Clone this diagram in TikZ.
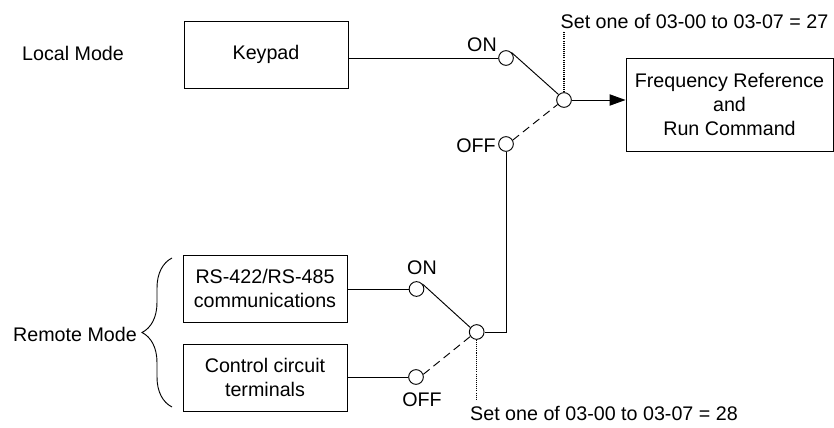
\documentclass[tikz,border=0pt]{standalone}
\usepackage{fontspec}
\setmainfont{Liberation Sans}
\usetikzlibrary{positioning, arrows.meta, decorations.pathreplacing}
\tikzset{
  srcbox/.style={draw, line width=0.8pt, minimum width=4.92cm, minimum height=2.01cm, align=center, inner sep=0pt},
  contact/.style={draw, circle, line width=0.8pt, minimum size=0.44cm, inner sep=0pt},
  wire/.style={line width=0.8pt},
  setline/.style={line width=0.9pt, dash pattern=on 0.9pt off 0.9pt},
}

\begin{document}
\begin{tikzpicture}[x=0.03cm, y=-0.03cm, font=\fontsize{16.8}{20.5}\selectfont, >={Triangle[length=4.8mm, width=3.4mm]}]
  \useasboundingbox (0,0) rectangle (834,428);
  % local mode
  \node (localmode) at (73,53) {Local Mode};
  \node[srcbox] (keypad) at (266,54.5) {Keypad};
  \node[contact] (onA) at (506,58) {};
  \node[contact] (comA) at (564,100) {};
  \node[contact] (offA) at (506,144) {};
  \node (onAlabel) at (482,45) {ON};
  \node (offAlabel) at (476,146) {OFF};
  \node[srcbox, minimum width=6.21cm, minimum height=2.79cm] (freq) at (729.5,104.5) {Frequency Reference\\and\\Run Command};
  \node (setA) at (694.5,21) {Set one of 03-00 to 03-07 = 27};
  \coordinate (dotA) at (564,32);
  \draw[wire] (onA.west -| keypad.east) -- (onA.west);
  \draw[wire] (onA.45) -- (comA.135);
  \draw[wire, dash pattern=on 0.24cm off 0.15cm] (offA.30) -- (comA.215);
  \draw[wire, ->] (comA) -- (comA -| freq.west);
  \draw[setline] (comA) -- (dotA);
  % remote mode
  \node (remotemode) at (75,334) {Remote Mode};
  \node[srcbox] (serial) at (265,288.5) {RS-422/RS-485\\communications};
  \node[srcbox] (terminals) at (265,377.5) {Control circuit\\terminals};
  \draw[wire, decorate, decoration={brace, amplitude=0.9cm}] (172,407) -- (172,258);
  \node[contact] (onB) at (416.5,289) {};
  \node[contact] (comB) at (476.7,332) {};
  \node[contact] (offB) at (416,377) {};
  \node (onBlabel) at (422,268) {ON};
  \node (offBlabel) at (422,400) {OFF};
  \node (setB) at (604,413) {Set one of 03-00 to 03-07 = 28};
  \coordinate (dotB) at (476.7,400);
  \draw[wire] (onB.west -| serial.east) -- (onB.west);
  \draw[wire] (offB.west -| terminals.east) -- (offB.west);
  \draw[wire] (onB.40) -- (comB.145);
  \draw[wire, dash pattern=on 0.24cm off 0.15cm] (offB.20) -- (comB.215);
  \draw[wire] (offA) |- (comB);
  \draw[setline] (comB) -- (dotB);
\end{tikzpicture}
\end{document}
